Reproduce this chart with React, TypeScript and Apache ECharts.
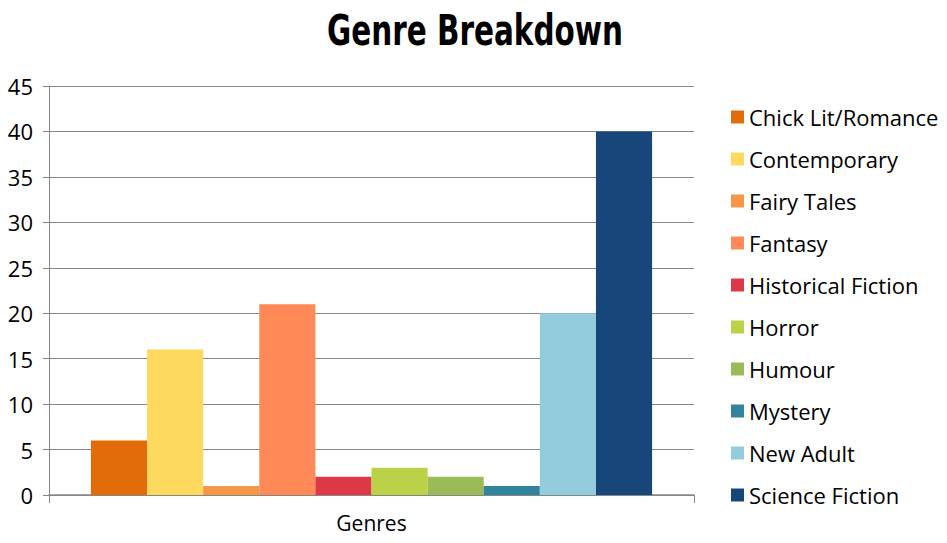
import React, { useEffect, useRef } from "react";
import * as echarts from "echarts";

const titleText = "Genre Breakdown";
const categories = ["Genres"];
const genres = [
  "Chick Lit/Romance",
  "Contemporary",
  "Fairy Tales",
  "Fantasy",
  "Historical Fiction",
  "Horror",
  "Humour",
  "Mystery",
  "New Adult",
  "Science Fiction",
];
const values = [6, 16, 1, 21, 2, 3, 2, 1, 20, 40];
const colors = [
  "#E36C0A",
  "#FDDA5E",
  "#F79646",
  "#FF8957",
  "#DC3845",
  "#BBD147",
  "#9BBB59",
  "#31849B",
  "#93CDDD",
  "#17467A",
];

export default function App() {
  const ref = useRef<HTMLDivElement>(null);
  useEffect(() => {
    if (!ref.current) return;
    const chart = echarts.init(ref.current, undefined, { renderer: "svg" });
    const font = "'Open Sans', 'Noto Sans', sans-serif";
    chart.setOption({
      animation: false,
      graphic: [
        {
          type: "text",
          x: 475,
          y: 31,
          scaleX: 0.78,
          style: {
            text: titleText,
            textAlign: "center",
            textVerticalAlign: "middle",
            fontFamily: "'DejaVu Sans Condensed', 'Liberation Sans Narrow', sans-serif",
            fontWeight: "bold",
            fontSize: 42,
            fill: "#000",
          },
        },
      ],
      legend: {
        orient: "vertical",
        left: 726,
        top: 101,
        itemWidth: 13,
        itemHeight: 13,
        itemGap: 20,
        icon: "rect",
        data: genres,
        textStyle: { fontFamily: font, fontSize: 22, color: "#000", lineHeight: 22 },
      },
      grid: { left: 49, right: 253, top: 86, bottom: 48, containLabel: false },
      xAxis: {
        type: "category",
        data: categories,
        axisLine: { show: true, lineStyle: { color: "#868686", width: 1.5 } },
        axisTick: { show: true, length: 8, lineStyle: { color: "#868686" } },
        axisLabel: { fontFamily: font, fontSize: 21, color: "#000", margin: 17 },
      },
      yAxis: {
        type: "value",
        min: 0,
        max: 45,
        interval: 5,
        axisLine: { show: true, lineStyle: { color: "#868686", width: 1 } },
        axisTick: { show: true, length: 6, lineStyle: { color: "#868686" } },
        axisLabel: { fontFamily: font, fontSize: 22, color: "#000", margin: 16 },
        splitLine: { show: true, lineStyle: { color: "#868686", width: 1 } },
      },
      series: genres.map((g, i) => ({
        name: g,
        type: "bar",
        data: [values[i]],
        barGap: "0%",
        barCategoryGap: "13%",
        itemStyle: { color: colors[i] },
      })),
    });
    return () => chart.dispose();
  }, []);
  return <div ref={ref} style={{ width: 947, height: 543, margin: -8 }} />;
}
